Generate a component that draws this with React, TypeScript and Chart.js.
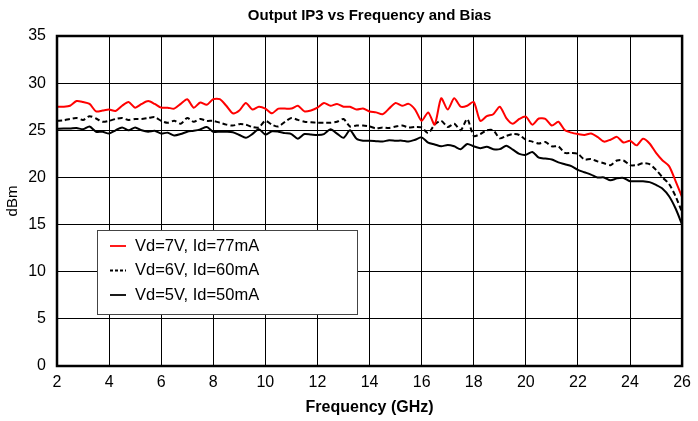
import React, { useEffect, useRef } from "react";
import { Chart, registerables } from "chart.js";

Chart.register(...registerables);

const chartTitle = "Output IP3 vs Frequency and Bias";
const xAxisTitle = "Frequency (GHz)";
const yAxisTitle = "dBm";
const seriesLabels = ["Vd=7V, Id=77mA", "Vd=6V, Id=60mA", "Vd=5V, Id=50mA"];

const frequencyGHz = [
  2, 2.25, 2.5, 2.75, 3, 3.25, 3.5, 3.75, 4, 4.25, 4.5, 4.75,
  5, 5.25, 5.5, 5.75, 6, 6.25, 6.5, 6.75, 7, 7.25, 7.5, 7.75,
  8, 8.25, 8.5, 8.75, 9, 9.25, 9.5, 9.75, 10, 10.25, 10.5, 10.75,
  11, 11.25, 11.5, 11.75, 12, 12.25, 12.5, 12.75, 13, 13.25, 13.5, 13.75,
  14, 14.25, 14.5, 14.75, 15, 15.25, 15.5, 15.75, 16, 16.25, 16.5, 16.75,
  17, 17.25, 17.5, 17.75, 18, 18.25, 18.5, 18.75, 19, 19.25, 19.5, 19.75,
  20, 20.25, 20.5, 20.75, 21, 21.25, 21.5, 21.75, 22, 22.25, 22.5, 22.75,
  23, 23.25, 23.5, 23.75, 24, 24.25, 24.5, 24.75, 25, 25.25, 25.5, 25.75, 26,
];

const oip3Vd7 = [
  27.5, 27.5, 27.6, 28.1, 28.0, 27.8, 27.0, 27.1, 27.2, 27.05, 27.6, 28.0,
  27.4, 27.8, 28.1, 27.8, 27.4, 27.4, 27.3, 27.8, 28.3, 27.4, 27.95, 27.7,
  28.3, 28.3, 27.6, 26.8, 27.1, 27.9, 27.2, 27.5, 27.3, 26.8, 27.3, 27.3,
  27.3, 27.6, 27.0, 27.1, 27.4, 27.9, 27.6, 27.8, 27.5, 27.5, 27.2, 27.3,
  27.0, 26.9, 26.7, 27.3, 27.9, 27.6, 27.8, 27.2, 26.0, 26.9, 25.6, 28.4,
  27.2, 28.4, 27.5, 27.6, 28.0, 26.0, 26.5, 26.7, 27.5, 26.3, 25.7, 26.2,
  26.45, 25.6, 26.25, 26.2, 25.5, 25.9, 25.0, 24.75, 24.6, 24.5, 24.65, 24.3,
  23.8, 24.0, 24.3, 23.7, 23.9, 23.4, 24.1, 23.6, 22.6, 21.8, 21.2, 19.6, 17.9,
];

const oip3Vd6 = [
  26.0, 26.05, 26.2, 26.3, 26.1, 26.5, 26.25, 25.9, 26.0, 26.2, 26.3, 26.1,
  26.2, 26.2, 26.3, 26.4, 26.0, 25.8, 26.0, 25.7, 26.3, 25.9, 26.2, 26.0,
  26.0, 25.8, 25.6, 25.5, 25.65, 25.6, 25.35, 25.3, 26.0, 25.6, 25.4, 25.9,
  26.3, 26.1, 25.9, 25.85, 25.8, 25.8, 25.8, 25.9, 26.2, 25.4, 25.5, 25.5,
  25.4, 25.2, 25.3, 25.25, 25.4, 25.5, 25.3, 25.35, 25.3, 24.7, 25.6, 26.0,
  25.35, 25.7, 25.0, 26.2, 24.4, 24.6, 25.0, 25.0, 24.15, 24.4, 24.6, 24.5,
  24.0, 23.8, 23.6, 23.75, 23.3, 23.3, 22.6, 22.6, 22.5, 21.9, 21.95, 21.7,
  21.5, 21.3, 21.8, 21.8, 21.3, 21.3, 21.5, 21.4, 20.8, 20.0, 19.3, 18.0, 16.3,
];

const oip3Vd5 = [
  25.15, 25.2, 25.2, 25.25, 25.1, 25.4, 24.85, 24.85, 24.65, 25.0, 25.3, 25.0,
  25.3, 25.0, 24.85, 24.95, 24.65, 24.75, 24.45, 24.6, 24.85, 24.95, 25.1, 25.35,
  24.85, 24.85, 24.85, 24.8, 24.5, 24.2, 24.6, 25.1, 24.55, 24.9, 24.85, 24.7,
  24.6, 24.1, 24.6, 24.55, 24.5, 24.6, 25.1, 24.65, 24.2, 25.0, 24.1, 23.9,
  23.9, 23.85, 23.8, 23.95, 23.9, 23.9, 23.8, 24.0, 24.25, 23.7, 23.5, 23.3,
  23.45, 23.3, 23.0, 23.55, 23.3, 23.1, 23.25, 23.0, 23.0, 23.35, 22.95, 22.5,
  22.4, 22.7, 22.1, 22.0, 21.9, 21.6, 21.4, 21.2, 20.8, 20.55, 20.3, 20.0,
  20.0, 19.7, 19.9, 19.95, 19.6, 19.6, 19.6, 19.5, 19.2, 18.8, 18.0, 16.7, 15.0,
];

const seriesColors = ["#ff0000", "#000000", "#000000"];
const seriesDashes: number[][] = [[], [5, 3], []];

const FONT = "'Liberation Sans', Arial, Helvetica, sans-serif";

const overlayPlugin = {
  id: "overlay",
  afterDraw(chart: any) {
    const { ctx, chartArea } = chart;
    const { left, right, top, bottom } = chartArea;
    ctx.save();
    ctx.strokeStyle = "#000";
    ctx.lineWidth = 2.5;
    ctx.strokeRect(left, top, right - left, bottom - top);
    ctx.fillStyle = "#000";
    ctx.textAlign = "center";
    ctx.textBaseline = "middle";
    ctx.font = `bold 15px ${FONT}`;
    ctx.fillText(chartTitle, (left + right) / 2, 16);
    ctx.font = `bold 16px ${FONT}`;
    ctx.fillText(xAxisTitle, (left + right) / 2, 408);
    ctx.font = `15px ${FONT}`;
    ctx.translate(13, (top + bottom) / 2);
    ctx.rotate(-Math.PI / 2);
    ctx.fillText(yAxisTitle, 0, 0);
    ctx.restore();

    ctx.save();
    const bx = left + 40;
    const by = top + 194;
    const bw = 260;
    const bh = 84;
    ctx.fillStyle = "#fff";
    ctx.fillRect(bx, by, bw, bh);
    ctx.strokeStyle = "#444";
    ctx.lineWidth = 1;
    ctx.strokeRect(bx + 0.5, by + 0.5, bw, bh);
    ctx.font = `16.5px ${FONT}`;
    ctx.textAlign = "left";
    ctx.textBaseline = "middle";
    chart.data.datasets.forEach((ds: any, i: number) => {
      const yy = by + 16 + i * 24.5;
      ctx.strokeStyle = ds.borderColor;
      ctx.lineWidth = 1.8;
      ctx.setLineDash(ds.borderDash && ds.borderDash.length ? [3, 2] : []);
      ctx.beginPath();
      ctx.moveTo(bx + 13, yy);
      ctx.lineTo(bx + 29, yy);
      ctx.stroke();
      ctx.setLineDash([]);
      ctx.fillStyle = "#000";
      ctx.fillText(ds.label, bx + 38, yy);
    });
    ctx.restore();
  },
};

export default function App() {
  const ref = useRef<HTMLCanvasElement | null>(null);
  useEffect(() => {
    if (!ref.current) return;
    const series = [oip3Vd7, oip3Vd6, oip3Vd5];
    const chart = new Chart(ref.current, {
      type: "line",
      data: {
        datasets: series.map((vals, i) => ({
          label: seriesLabels[i],
          data: frequencyGHz.map((f, j) => ({ x: f, y: vals[j] })),
          borderColor: seriesColors[i],
          borderDash: seriesDashes[i],
          borderWidth: 2,
          pointRadius: 0,
          tension: 0.25,
          fill: false,
        })),
      },
      options: {
        responsive: false,
        animation: false,
        layout: { padding: { top: 36, right: 11, left: 0, bottom: 0 } },
        plugins: {
          legend: { display: false },
          title: { display: false },
          tooltip: { enabled: false },
        },
        scales: {
          x: {
            type: "linear",
            min: 2,
            max: 26,
            ticks: {
              stepSize: 2,
              color: "#000",
              padding: 7,
              font: { family: FONT, size: 16 },
              maxRotation: 0,
            },
            grid: { color: "#000", lineWidth: 1, drawTicks: false },
            border: { display: false },
            afterFit: (s: any) => {
              s.height = 55;
            },
          },
          y: {
            min: 0,
            max: 35,
            ticks: {
              stepSize: 5,
              color: "#000",
              padding: 11,
              font: { family: FONT, size: 16 },
            },
            grid: { color: "#000", lineWidth: 1, drawTicks: false },
            border: { display: false },
            afterFit: (s: any) => {
              s.width = 57;
            },
          },
        },
      },
      plugins: [overlayPlugin],
    });
    return () => chart.destroy();
  }, []);
  return (
    <div style={{ position: "fixed", left: 0, top: 0, width: 698, height: 421, background: "#fff" }}>
      <canvas ref={ref} width={698} height={421} style={{ width: 698, height: 421, display: "block" }} />
    </div>
  );
}
